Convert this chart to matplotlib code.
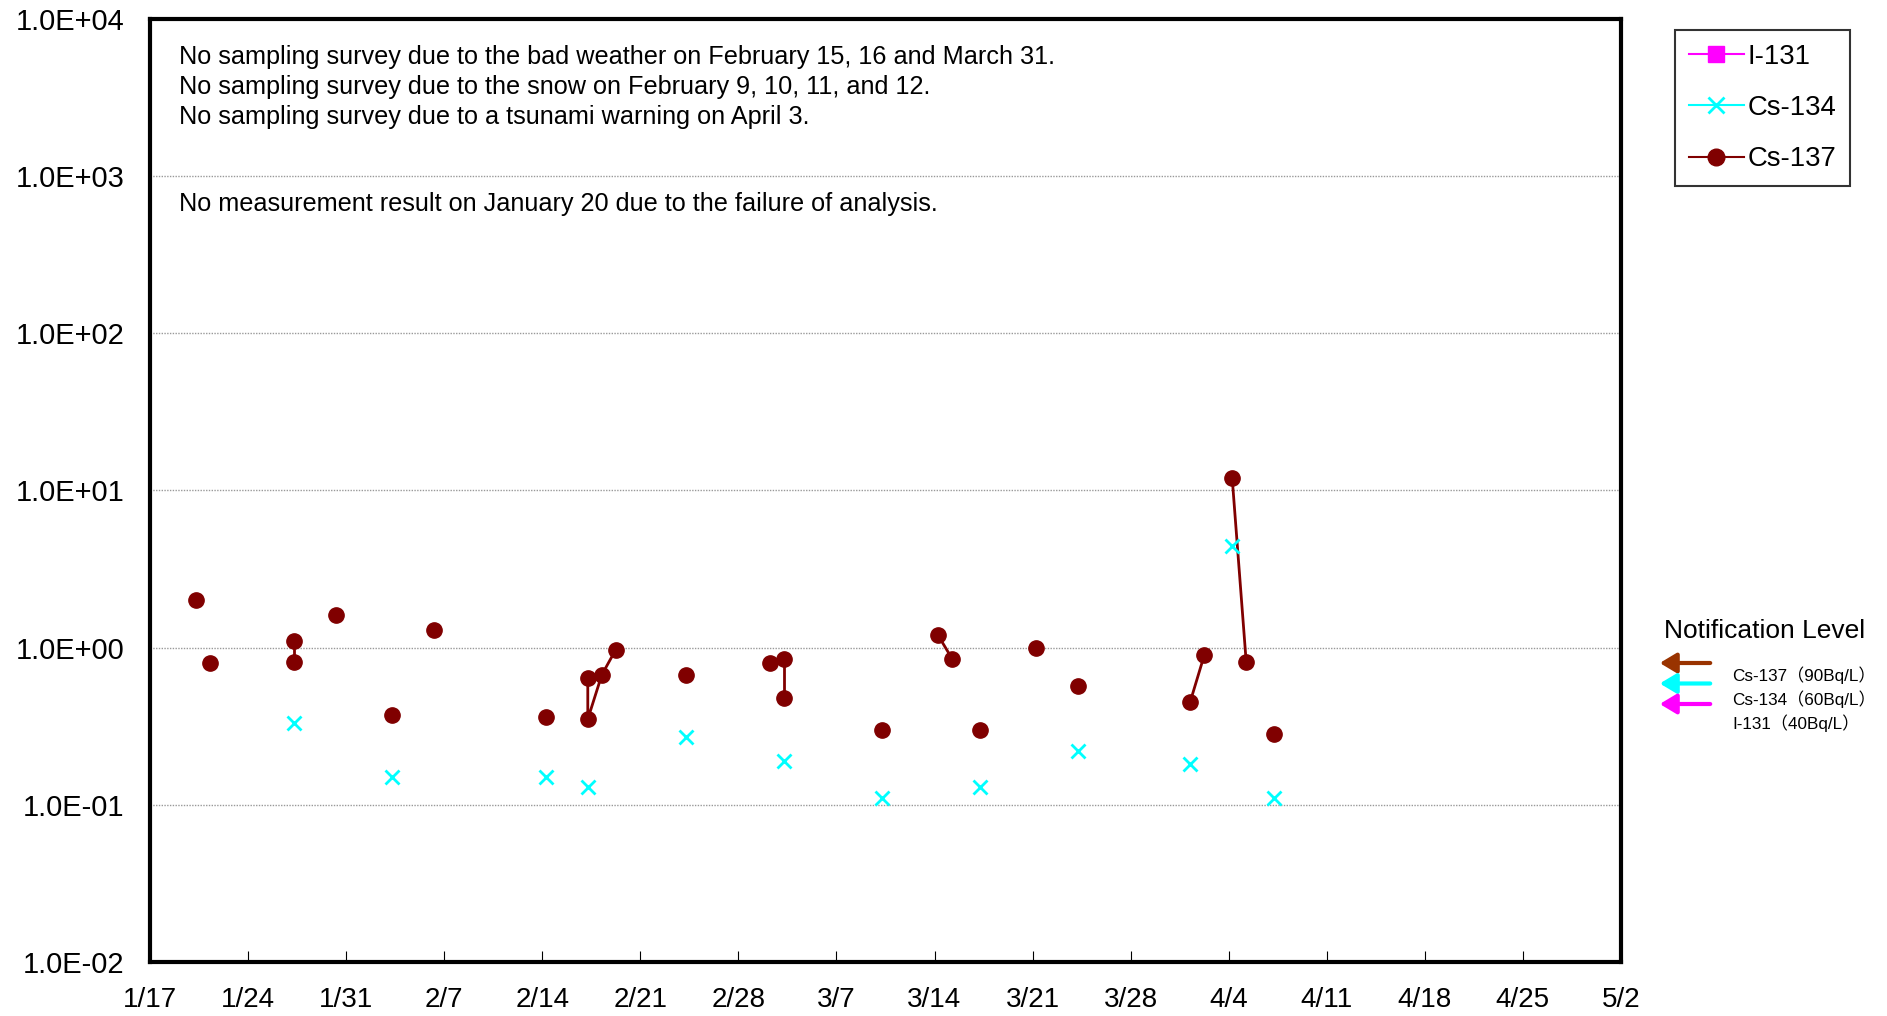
import datetime as dt
import matplotlib
matplotlib.use("Agg")
import matplotlib.pyplot as plt
from matplotlib.lines import Line2D
from matplotlib.patches import FancyArrowPatch
from matplotlib.ticker import FixedLocator, FuncFormatter, NullLocator

plt.rcParams['font.family'] = ['Liberation Sans', 'Noto Sans CJK JP', 'DejaVu Sans']

# --- data (Bq/L) ---
YEAR = 2023
SAMPLE_HOUR = 6

cs137_dates = ["1/20", "1/21", "1/27", "1/27", "1/30", "2/3", "2/6", "2/14",
               "2/17", "2/17", "2/18", "2/19", "2/24", "3/2", "3/3", "3/3",
               "3/10", "3/14", "3/15", "3/17", "3/21", "3/24", "4/1", "4/2",
               "4/4", "4/5", "4/7"]
cs137_values = [2.0, 0.80, 1.1, 0.81, 1.6, 0.37, 1.3, 0.36,
                0.64, 0.35, 0.67, 0.97, 0.67, 0.80, 0.85, 0.48,
                0.30, 1.2, 0.85, 0.30, 1.0, 0.57, 0.45, 0.89,
                12.0, 0.81, 0.28]
# points with the same group id are joined by a line
cs137_group = [0, 1, 2, 2, 3, 4, 5, 6,
               7, 7, 7, 7, 8, 9, 10, 10,
               11, 12, 12, 13, 14, 15, 16, 16,
               17, 17, 18]

cs134_dates = ["1/27", "2/3", "2/14", "2/17", "2/24", "3/3", "3/10", "3/17",
               "3/24", "4/1", "4/4", "4/7"]
cs134_values = [0.33, 0.15, 0.15, 0.13, 0.27, 0.19, 0.11, 0.13,
                0.22, 0.18, 4.4, 0.11]

i131_dates = []
i131_values = []

notes = ["No sampling survey due to the bad weather on February 15, 16 and March 31.",
         "No sampling survey due to the snow on February 9, 10, 11, and 12.",
         "No sampling survey due to a tsunami warning on April 3.",
         "No measurement result on January 20 due to the failure of analysis."]

levels = ["Cs-137（90Bq/L）", "Cs-134（60Bq/L）", "I-131（40Bq/L）"]
level_colors = ["#993300", "#00FFFF", "#FF00FF"]


def to_dt(s):
    m, d = s.split("/")
    return dt.datetime(YEAR, int(m), int(d), SAMPLE_HOUR)


fig = plt.figure(figsize=(18.87, 10.16), dpi=100)
ax = fig.add_axes([0.0795, 0.0535, 0.7795, 0.9275])

# Cs-137, broken into connected runs
x137 = [to_dt(s) for s in cs137_dates]
for g in sorted(set(cs137_group)):
    xs = [x for x, k in zip(x137, cs137_group) if k == g]
    ys = [v for v, k in zip(cs137_values, cs137_group) if k == g]
    ax.plot(xs, ys, color="#800000", lw=2, marker="o", ms=11, zorder=3)

ax.plot([to_dt(s) for s in cs134_dates], cs134_values, ls="none",
        marker="x", ms=10, mew=2, color="#00FFFF", zorder=4)
if i131_dates:
    ax.plot([to_dt(s) for s in i131_dates], i131_values, color="#FF00FF",
            marker="s", ms=9)

ax.set_yscale("log")
ax.set_ylim(1e-2, 1e4)
ax.yaxis.set_major_locator(FixedLocator([10.0 ** k for k in range(-2, 5)]))
ax.yaxis.set_minor_locator(NullLocator())
ax.yaxis.set_major_formatter(FuncFormatter(lambda v, p: f"{v:.1E}"))
ax.tick_params(axis="y", length=0, pad=18.5, labelsize=20.9)

start = dt.datetime(YEAR, 1, 17)
end = dt.datetime(YEAR, 5, 2)
ax.set_xlim(start, end)
ticks = [start + dt.timedelta(days=7 * i) for i in range(16)]
ax.set_xticks(ticks)
ax.set_xticklabels([f"{t.month}/{t.day}" for t in ticks])
ax.tick_params(axis="x", direction="in", length=8, width=0.8, pad=18, labelsize=20)

ax.grid(axis="y", color="#999999", ls=(0, (1, 1)), lw=1)
for sp in ax.spines.values():
    sp.set_linewidth(3)

for i, line in enumerate(notes[:3]):
    fig.text(179 / 1887, 1 - (57 + 30 * i) / 1016, line, fontsize=18.2, va="center")
fig.text(179 / 1887, 1 - 204 / 1016, notes[3], fontsize=18.2, va="center")

# legend
handles = [Line2D([], [], color="#FF00FF", marker="s", ms=12, lw=1.5),
           Line2D([], [], color="#00FFFF", marker="x", ms=12, mew=2, lw=1.5),
           Line2D([], [], color="#800000", marker="o", ms=12, lw=1.5)]
leg = fig.legend(handles, ["I-131", "Cs-134", "Cs-137"], loc="upper left",
                 bbox_to_anchor=(1675 / 1887, 1 - 30 / 1016), fontsize=19.8,
                 frameon=True, fancybox=False, edgecolor="black",
                 handlelength=2.0, handletextpad=0.15, labelspacing=0.92,
                 borderpad=0.5, borderaxespad=0)
leg.get_frame().set_linewidth(1.5)

# notification level
fig.text(1765 / 1887, 1 - 631 / 1016, "Notification Level", fontsize=19,
         ha="center", va="center")
for i, (lab, c) in enumerate(zip(levels, level_colors)):
    ya = 1 - (663 + 20.5 * i) / 1016
    fig.add_artist(FancyArrowPatch(
        (1713 / 1887, ya), (1657 / 1887, ya), transform=fig.transFigure,
        arrowstyle="-|>,head_length=10,head_width=6", color=c, lw=3,
        mutation_scale=1))
    fig.text(1732 / 1887, 1 - (675 + 24 * i) / 1016, lab, fontsize=12.3,
             va="center")

fig.savefig("out.png", dpi=100)
